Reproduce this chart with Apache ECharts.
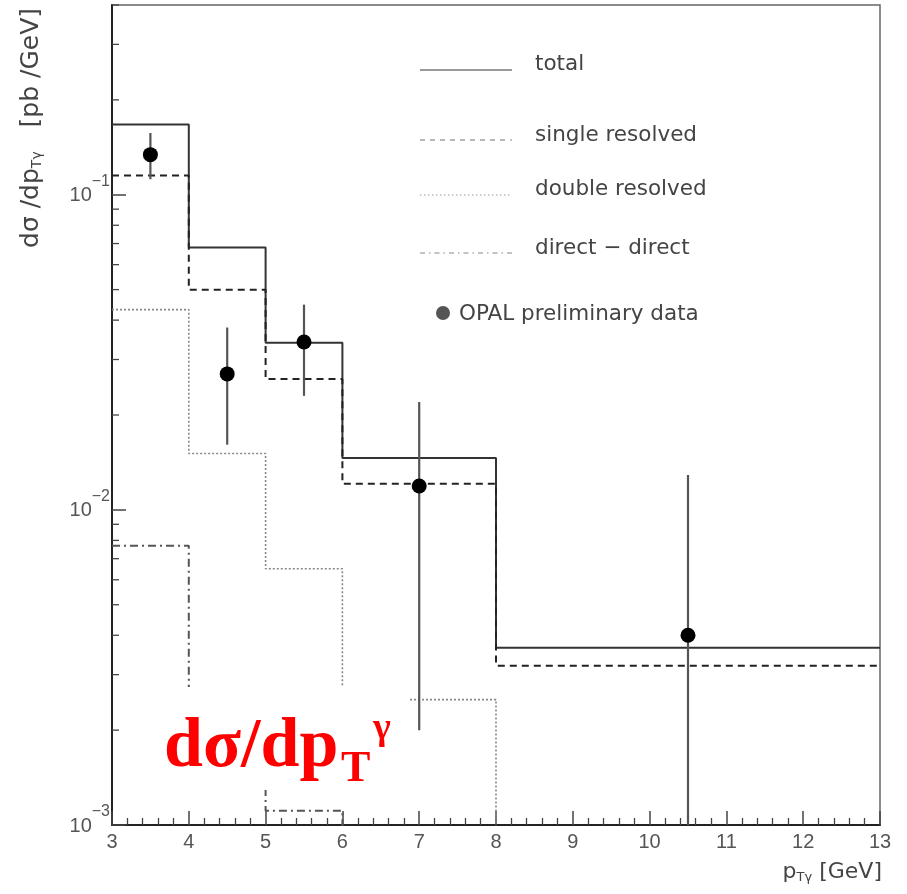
<!DOCTYPE html>
<html>
<head>
<meta charset="utf-8">
<script src="https://cdn.jsdelivr.net/npm/echarts@6/dist/echarts.min.js"></script>
<style>
  html, body { margin: 0; padding: 0; background: #fff; }
  #chart { width: 907px; height: 894px; }
</style>
</head>
<body>
<div id="chart"></div>
<script>
  // histogram bins (p_T gamma, GeV) and cross sections per bin (pb/GeV)
  const binEdges = [3, 4, 5, 6, 8, 13]
  const total = [0.167, 0.068, 0.0339, 0.0146, 0.00365]
  const singleResolved = [0.115, 0.0499, 0.026, 0.0121, 0.0032]
  // last bins fall below 1e-3 (off the plot), rough guesses
  const doubleResolved = [0.0432, 0.0151, 0.0065, 0.0025, 0.0006]
  const directDirect = [0.0077, 0.0019, 0.00111, 0.0006, 0.0006]

  // OPAL preliminary data with error bars
  const dataX = [3.5, 4.5, 5.5, 7, 10.5]
  const dataY = [0.134, 0.027, 0.0341, 0.0119, 0.0040]
  const dataLow = [0.112, 0.0161, 0.0230, 0.0020, 0.0005]
  const dataHigh = [0.157, 0.0379, 0.0448, 0.0220, 0.0129]

  // minor ticks of the log axis (2..9 of each decade)
  const yMinorTicks = [0.002, 0.003, 0.004, 0.005, 0.006, 0.007, 0.008, 0.009,
                       0.02, 0.03, 0.04, 0.05, 0.06, 0.07, 0.08, 0.09,
                       0.2, 0.3, 0.4]

  const labelFont = '"Liberation Sans", Arial, sans-serif'
  const textFont = '"DejaVu Sans", sans-serif'
  const redFont = '"Liberation Serif", "Times New Roman", serif'
  const inkGray = '#444'
  const tickColor = '#444'

  function stepData(vals) {
    return binEdges.map((e, i) => [e, vals[Math.min(i, vals.length - 1)]])
  }

  function histSeries(name, vals, color, width, dash) {
    return {
      name: name,
      type: 'line',
      step: 'end',
      showSymbol: false,
      symbol: 'none',
      clip: true,
      z: 3,
      lineStyle: { color: color, width: width, type: dash },
      data: stepData(vals)
    }
  }

  function legendText(x, y, text) {
    return { type: 'text', x: x, y: y, style: { text: text, font: '21.5px ' + textFont, fill: inkGray, verticalAlign: 'middle' } }
  }

  const chart = echarts.init(document.getElementById('chart'))

  chart.setOption({
    animation: false,
    backgroundColor: '#fff',
    grid: {
      left: 112, right: 27, top: 5, bottom: 69,
      show: true, borderColor: '#666', borderWidth: 1.5, backgroundColor: 'transparent'
    },
    xAxis: {
      type: 'value',
      min: 3, max: 13, interval: 1,
      axisLine: { lineStyle: { color: '#222', width: 2 } },
      axisTick: { inside: true, length: 14, lineStyle: { color: tickColor, width: 1.5 } },
      minorTick: { show: true, splitNumber: 5, length: 7, lineStyle: { color: tickColor, width: 1.3 } },
      splitLine: { show: false },
      axisLabel: { color: '#555', fontSize: 20, fontFamily: labelFont, margin: 7 }
    },
    yAxis: {
      type: 'log',
      logBase: 10,
      min: 0.001, max: 0.4,
      axisLine: { lineStyle: { color: '#222', width: 2 } },
      axisTick: { inside: true, length: 14, lineStyle: { color: tickColor, width: 1.5 } },
      splitLine: { show: false },
      axisLabel: {
        showMaxLabel: false,
        margin: 2,
        formatter: function (v) {
          const l = Math.log10(v)
          const e = Math.round(l)
          if (Math.abs(l - e) > 0.01) return ''
          return '{b|10}{e|\u2212' + (-e) + '}'
        },
        rich: {
          b: { fontSize: 20, lineHeight: 20, fontFamily: labelFont, color: '#555', padding: [11, 0, 9, 0] },
          e: { fontSize: 16, lineHeight: 14, fontFamily: labelFont, color: '#555', padding: [0, 0, 26, 0] }
        }
      }
    },
    series: [
      histSeries('total', total, '#333', 2, 'solid'),
      histSeries('single resolved', singleResolved, '#222', 2, [7, 5]),
      histSeries('double resolved', doubleResolved, '#888', 1.6, [2, 2]),
      histSeries('direct - direct', directDirect, '#555', 2, [8, 4, 2, 4]),
      {
        // log axis minor ticks, through the axis scale
        type: 'custom',
        silent: true,
        z: 4,
        data: yMinorTicks.map(v => [3, v]),
        renderItem: function (params, api) {
          const p = api.coord([api.value(0), api.value(1)])
          return {
            type: 'line',
            shape: { x1: p[0], y1: p[1], x2: p[0] + 7, y2: p[1] },
            style: { stroke: tickColor, lineWidth: 1.3 }
          }
        }
      },
      {
        name: 'error bars',
        type: 'custom',
        clip: true,
        z: 5,
        data: dataX.map((x, i) => [x, dataLow[i], dataHigh[i]]),
        renderItem: function (params, api) {
          const lo = api.coord([api.value(0), api.value(1)])
          const hi = api.coord([api.value(0), api.value(2)])
          return {
            type: 'line',
            shape: { x1: lo[0], y1: lo[1], x2: hi[0], y2: hi[1] },
            style: { stroke: '#555', lineWidth: 2.2 }
          }
        }
      },
      {
        name: 'OPAL preliminary data',
        type: 'scatter',
        symbol: 'circle',
        symbolSize: 15,
        z: 6,
        itemStyle: { color: '#000', opacity: 1 },
        data: dataX.map((x, i) => [x, dataY[i]])
      }
    ],
    graphic: [
      // y axis title
      {
        type: 'text',
        x: 31, y: 128,
        rotation: Math.PI / 2,
        style: {
          text: 'd\u03c3 /dp{s|T\u03b3}   [pb /GeV]',
          font: '25px ' + textFont,
          fill: inkGray,
          align: 'center',
          verticalAlign: 'middle',
          rich: {
            s: { fontSize: 14, fontFamily: textFont, fill: inkGray, padding: [12, 0, 0, 0] }
          }
        }
      },
      // x axis title
      {
        type: 'text',
        right: 25, top: 861,
        style: {
          text: 'p{s|T\u03b3} [GeV]',
          font: '22px ' + textFont,
          fill: inkGray,
          rich: {
            s: { fontSize: 13, fontFamily: textFont, fill: inkGray, padding: [11, 0, 0, 0] }
          }
        }
      },
      // legend
      { type: 'line', shape: { x1: 420, y1: 70, x2: 512, y2: 70 }, style: { stroke: '#777', lineWidth: 1.4 } },
      legendText(535, 64, 'total'),
      { type: 'line', shape: { x1: 420, y1: 140, x2: 512, y2: 140 }, style: { stroke: '#888', lineWidth: 1.2, lineDash: [5, 5] } },
      legendText(535, 135, 'single resolved'),
      { type: 'line', shape: { x1: 420, y1: 195, x2: 512, y2: 195 }, style: { stroke: '#999', lineWidth: 1.2, lineDash: [1.5, 2.5] } },
      legendText(535, 189, 'double resolved'),
      { type: 'line', shape: { x1: 420, y1: 253, x2: 512, y2: 253 }, style: { stroke: '#888', lineWidth: 1.2, lineDash: [5, 4, 1.5, 4] } },
      legendText(535, 248, 'direct \u2212 direct'),
      { type: 'circle', shape: { cx: 443, cy: 313, r: 7 }, style: { fill: '#555' } },
      legendText(459, 314, 'OPAL preliminary data'),
      // red overlay label on a white patch
      {
        type: 'group',
        z: 100,
        children: [
          { type: 'rect', z: 100, shape: { x: 150, y: 687, width: 258, height: 103 }, style: { fill: '#fff' } },
          { type: 'text', z: 101, x: 164, y: 748, style: { text: 'd\u03c3/dp', font: 'bold 70px ' + redFont, fill: '#f00', verticalAlign: 'middle' } },
          { type: 'text', z: 101, x: 341, y: 770, style: { text: 'T', font: 'bold 44px ' + redFont, fill: '#f00', verticalAlign: 'middle' } },
          { type: 'text', z: 101, x: 373, y: 729, style: { text: '\u03b3', font: 'bold 38px ' + redFont, fill: '#f00', verticalAlign: 'middle' } }
        ]
      }
    ]
  })
</script>
</body>
</html>
